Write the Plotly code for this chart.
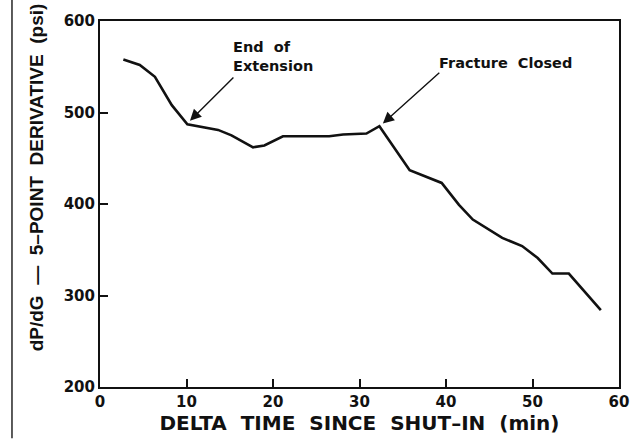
import plotly.graph_objects as go

# Shut-in time (min) and 5-point G-function derivative (psi)
delta_time = [2.7, 4.6, 6.35, 8.3, 10.1, 13.65, 15.2, 17.7, 19.0, 21.15, 26.5,
              28.1, 30.8, 32.3, 35.8, 39.5, 41.5, 43.1, 46.5, 48.8, 50.6, 52.3,
              54.2, 57.9]
derivative = [558, 552, 539, 508, 487, 481, 475, 462, 464, 474, 474,
              476, 477, 485, 437, 423, 399, 383, 363, 354, 341, 324,
              324, 284]

x_ticks = [0, 10, 20, 30, 40, 50, 60]
y_ticks = [200, 300, 400, 500, 600]

FONT = "DejaVu Sans"
INK = "#111111"

fig = go.Figure()
fig.add_trace(go.Scatter(
    x=delta_time, y=derivative, mode="lines",
    line=dict(color=INK, width=2.6), showlegend=False, hoverinfo="skip",
))

axis_common = dict(
    showgrid=False, zeroline=False, showline=True, mirror=True,
    linecolor=INK, linewidth=2, ticks="inside", ticklen=8, tickwidth=1.6,
    tickcolor=INK,
    tickfont=dict(family=FONT, size=15, color=INK, weight="bold"),
)

fig.update_xaxes(range=[0, 60], tickvals=x_ticks, **axis_common,
                 title=dict(text="DELTA  TIME  SINCE  SHUT\u2013IN  (min)",
                            font=dict(family=FONT, size=20, color=INK, weight="bold"),
                            standoff=2))
fig.update_yaxes(range=[200, 600], tickvals=y_ticks, **axis_common)

# Vertical axis title, placed a little above the plot centre
fig.add_annotation(x=-0.1233, y=0.573, xref="paper", yref="paper",
                   xanchor="center", yanchor="middle", textangle=-90,
                   text="dP/dG  \u2014  5\u2013POINT  DERIVATIVE  (psi)",
                   showarrow=False,
                   font=dict(family="Liberation Sans", size=19, color=INK, weight="bold"))

# Event labels
fig.add_annotation(x=15.2, y=582, xref="x", yref="y", xanchor="left", yanchor="top",
                   text="End  of<br>Extension", showarrow=False, align="left",
                   font=dict(family=FONT, size=14.5, color=INK, weight="bold"))
fig.add_annotation(x=39.0, y=565, xref="x", yref="y", xanchor="left", yanchor="top",
                   text="Fracture  Closed", showarrow=False, align="left",
                   font=dict(family=FONT, size=14.5, color=INK, weight="bold"))

# Arrows pointing at the events
fig.add_annotation(x=10.4, y=491, ax=15.6, ay=540, xref="x", yref="y",
                   axref="x", ayref="y", text="", showarrow=True,
                   arrowhead=2, arrowsize=1.6, arrowwidth=1.4, arrowcolor=INK)
fig.add_annotation(x=32.7, y=488, ax=39.4, ay=545, xref="x", yref="y",
                   axref="x", ayref="y", text="", showarrow=True,
                   arrowhead=2, arrowsize=1.6, arrowwidth=1.4, arrowcolor=INK)

# Page rule at the left edge
fig.add_shape(type="line", xref="paper", yref="paper",
              x0=-0.1696, x1=-0.1696, y0=-0.14, y1=1.06,
              line=dict(color="#333333", width=1.6))

fig.update_layout(
    width=644, height=439,
    margin=dict(l=100, r=25, t=20, b=51),
    paper_bgcolor="white", plot_bgcolor="white",
)

fig.write_html("out.html")
